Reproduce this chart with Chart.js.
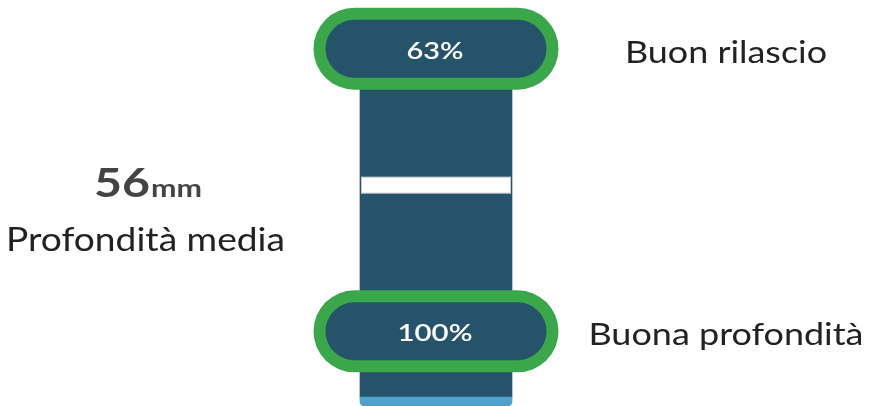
<!DOCTYPE html>
<html>
<head>
<meta charset="utf-8">
<script src="https://cdn.jsdelivr.net/npm/chart.js@4"></script>
<style>
  html, body { margin: 0; padding: 0; background: #fff; }
  canvas { display: block; }
</style>
</head>
<body>
<canvas id="depthChart" width="872" height="406"></canvas>
<script>
// gauge position scale 0 (bottom) .. 100 (top)
const categories = ['Compressioni'];
const baseBand = [0, 2.2];        // light blue strip at the bottom
const gaugeBand = [2.2, 88];      // dark column
const levelLabels = ['Buon rilascio', 'Buona profondità'];
const levelPercents = ['63%', '100%'];
const levelPos = [88, 18.4];
const averageDepth = 56;          // mm
const averagePos = 54.4;
const averageLabel = 'Profondità media';

const DARK = '#24536a';
const GREEN = '#39a74a';
const LIGHT = '#4ea2cb';

// the source text is a bit wider than plain Lato, so stretch it to a width
function wideText(ctx, text, x, y, font, width, align) {
    ctx.font = font;
    const w = ctx.measureText(text).width;
    const sx = width / w;
    ctx.save();
    ctx.translate(x, y);
    ctx.scale(sx, 1);
    ctx.textAlign = align || 'center';
    ctx.fillText(text, 0, 0);
    ctx.restore();
}

const overlay = {
    id: 'overlay',
    afterDatasetsDraw(chart) {
        const ctx = chart.ctx;
        const x = chart.scales.x, y = chart.scales.y;
        const cx = x.getPixelForValue(0);
        ctx.save();
        ctx.textBaseline = 'alphabetic';

        // average depth marker
        const my = y.getPixelForValue(averagePos);
        ctx.fillStyle = '#ffffff';
        ctx.strokeStyle = '#c5cdd2';
        ctx.lineWidth = 1;
        ctx.fillRect(cx - 74.5, my - 8, 149, 16);
        ctx.strokeRect(cx - 74.5, my - 8, 149, 16);

        // pills + labels
        const pctW = [57, 75], lblW = [202, 275];
        levelPos.forEach(function (v, i) {
            const py = y.getPixelForValue(v);
            const w = 245, h = 82;
            ctx.fillStyle = GREEN;
            ctx.beginPath();
            ctx.roundRect(cx - w / 2, py - h / 2, w, h, h / 2);
            ctx.fill();
            ctx.fillStyle = DARK;
            ctx.beginPath();
            ctx.roundRect(cx - w / 2 + 12, py - h / 2 + 12, w - 24, h - 24, (h - 24) / 2);
            ctx.fill();

            ctx.fillStyle = '#ffffff';
            wideText(ctx, levelPercents[i], cx - 1, py + 10, '600 23px Lato', pctW[i]);

            ctx.fillStyle = '#222222';
            wideText(ctx, levelLabels[i], 726, py + 14, '31px Lato', lblW[i]);
        });

        // left summary text
        ctx.fillStyle = '#444444';
        wideText(ctx, String(averageDepth), 94, 197, 'bold 40px Lato', 56, 'left');
        wideText(ctx, 'mm', 151, 197, 'bold 25px Lato', 51, 'left');

        ctx.fillStyle = '#222222';
        wideText(ctx, averageLabel, 145.5, 251, '33px Lato', 279);

        ctx.restore();
    }
};

const ctx = document.getElementById('depthChart').getContext('2d');
new Chart(ctx, {
    type: 'bar',
    data: {
        labels: categories,
        datasets: [{
            data: [baseBand],
            backgroundColor: LIGHT,
            borderRadius: { topLeft: 0, topRight: 0, bottomLeft: 6, bottomRight: 6 },
            borderSkipped: false,
            barThickness: 152,
            grouped: false
        }, {
            data: [gaugeBand],
            backgroundColor: DARK,
            barThickness: 152,
            grouped: false
        }]
    },
    options: {
        responsive: false,
        animation: false,
        layout: { padding: 0 },
        plugins: { legend: { display: false }, tooltip: { enabled: false } },
        scales: {
            x: { display: false },
            y: { display: false, min: 0, max: 100 }
        }
    },
    plugins: [overlay]
});
</script>
</body>
</html>
